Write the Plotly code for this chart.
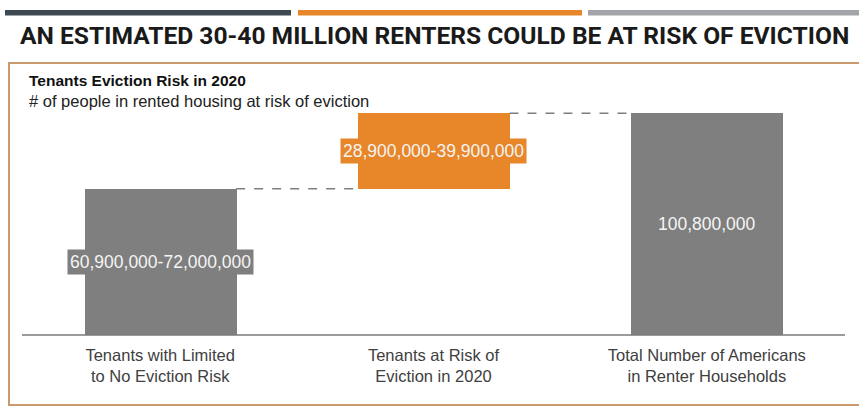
import plotly.graph_objects as go

W, H = 859, 409

categories = ["Tenants with Limited<br>to No Eviction Risk",
              "Tenants at Risk of<br>Eviction in 2020",
              "Total Number of Americans<br>in Renter Households"]
# midpoints of the stated ranges
bar_values = [66_450_000, 34_350_000, 100_800_000]
bar_bases = [0, 66_450_000, 0]
value_labels = ["60,900,000-72,000,000", "28,900,000-39,900,000", "100,800,000"]
bar_colors = ["#7f7f7f", "#e8862a", "#7f7f7f"]
label_bg = ["#7f7f7f", "#e8862a", "rgba(0,0,0,0)"]

title = "AN ESTIMATED 30-40 MILLION RENTERS COULD BE AT RISK OF EVICTION"
chart_title = "Tenants Eviction Risk in 2020"
chart_subtitle = "# of people in rented housing at risk of eviction"

def px_x(p):
    return p / W

def px_y(p):
    return 1 - p / H

# plot area in pixels
x0, x1 = 23.5, 843.5
y_top, y_base = 93, 335
bar_w = 0.556

fig = go.Figure()
fig.add_trace(go.Bar(
    x=list(range(len(categories))), y=bar_values, base=bar_bases,
    marker=dict(color=bar_colors, line=dict(width=0)),
    width=bar_w, hoverinfo="skip", showlegend=False,
))

shapes = []
# top decorative stripes
for xa, xb, c in [(5, 291, "#3e4a53"), (298, 582, "#e8862a"), (588, 859, "#a2a6aa")]:
    shapes.append(dict(type="rect", xref="paper", yref="paper",
                       x0=px_x(xa), x1=px_x(xb), y0=px_y(15.5), y1=px_y(10),
                       fillcolor=c, line=dict(width=0), layer="below"))
# framed panel
shapes.append(dict(type="rect", xref="paper", yref="paper",
                   x0=px_x(9), x1=px_x(862), y0=px_y(405), y1=px_y(63),
                   fillcolor="rgba(0,0,0,0)", line=dict(color="#c89a6e", width=2),
                   layer="below"))
# baseline
shapes.append(dict(type="line", xref="paper", yref="paper",
                   x0=px_x(22), x1=px_x(845), y0=px_y(y_base), y1=px_y(y_base),
                   line=dict(color="#7a7a7a", width=1.5), layer="above"))
# dashed connectors between bar tops
for i in range(len(categories) - 1):
    level = bar_bases[i] + bar_values[i]
    shapes.append(dict(type="line", xref="x", yref="y",
                       x0=i + bar_w / 2, x1=i + 1 - bar_w / 2, y0=level, y1=level,
                       line=dict(color="#7f7f7f", width=1.5, dash="dash")))

annotations = [
    dict(text=f"<b>{title}</b>", x=px_x(434), y=px_y(36), xref="paper", yref="paper",
         showarrow=False, xanchor="center", yanchor="middle",
         font=dict(family="Roboto, Arial", size=24.6, color="#1a1a1a")),
    dict(text=f"<b>{chart_title}</b>", x=px_x(27), y=px_y(80), xref="paper", yref="paper",
         showarrow=False, xanchor="left", yanchor="middle",
         font=dict(family="Liberation Sans, Arial", size=15.5, color="#111111")),
    dict(text=chart_subtitle, x=px_x(27), y=px_y(101), xref="paper", yref="paper",
         showarrow=False, xanchor="left", yanchor="middle",
         font=dict(family="Liberation Sans, Arial", size=16.5, color="#222222")),
]
for i, lab in enumerate(value_labels):
    annotations.append(dict(
        text=lab, x=i, y=bar_bases[i] + bar_values[i] / 2, xref="x", yref="y",
        showarrow=False, xanchor="center", yanchor="middle",
        bgcolor=label_bg[i], borderpad=2,
        font=dict(family="Liberation Sans, Arial", size=17.5, color="#f4f4f4")))

fig.update_layout(
    width=W, height=H,
    margin=dict(l=0, r=0, t=0, b=0),
    paper_bgcolor="white", plot_bgcolor="white",
    shapes=shapes, annotations=annotations,
    bargap=0,
    xaxis=dict(domain=[px_x(x0), px_x(x1)], range=[-0.5, 2.5],
               tickmode="array", tickvals=list(range(len(categories))), ticktext=categories,
               showgrid=False, zeroline=False, showline=False, ticks="",
               ticklabelstandoff=8,
               tickfont=dict(family="Liberation Sans, Arial", size=16.5, color="#404040"),
               fixedrange=True),
    yaxis=dict(domain=[px_y(y_base), px_y(y_top)], range=[0, 110_000_000],
               showgrid=False, zeroline=False, showline=False, showticklabels=False,
               fixedrange=True),
)

fig.write_html("out.html")
